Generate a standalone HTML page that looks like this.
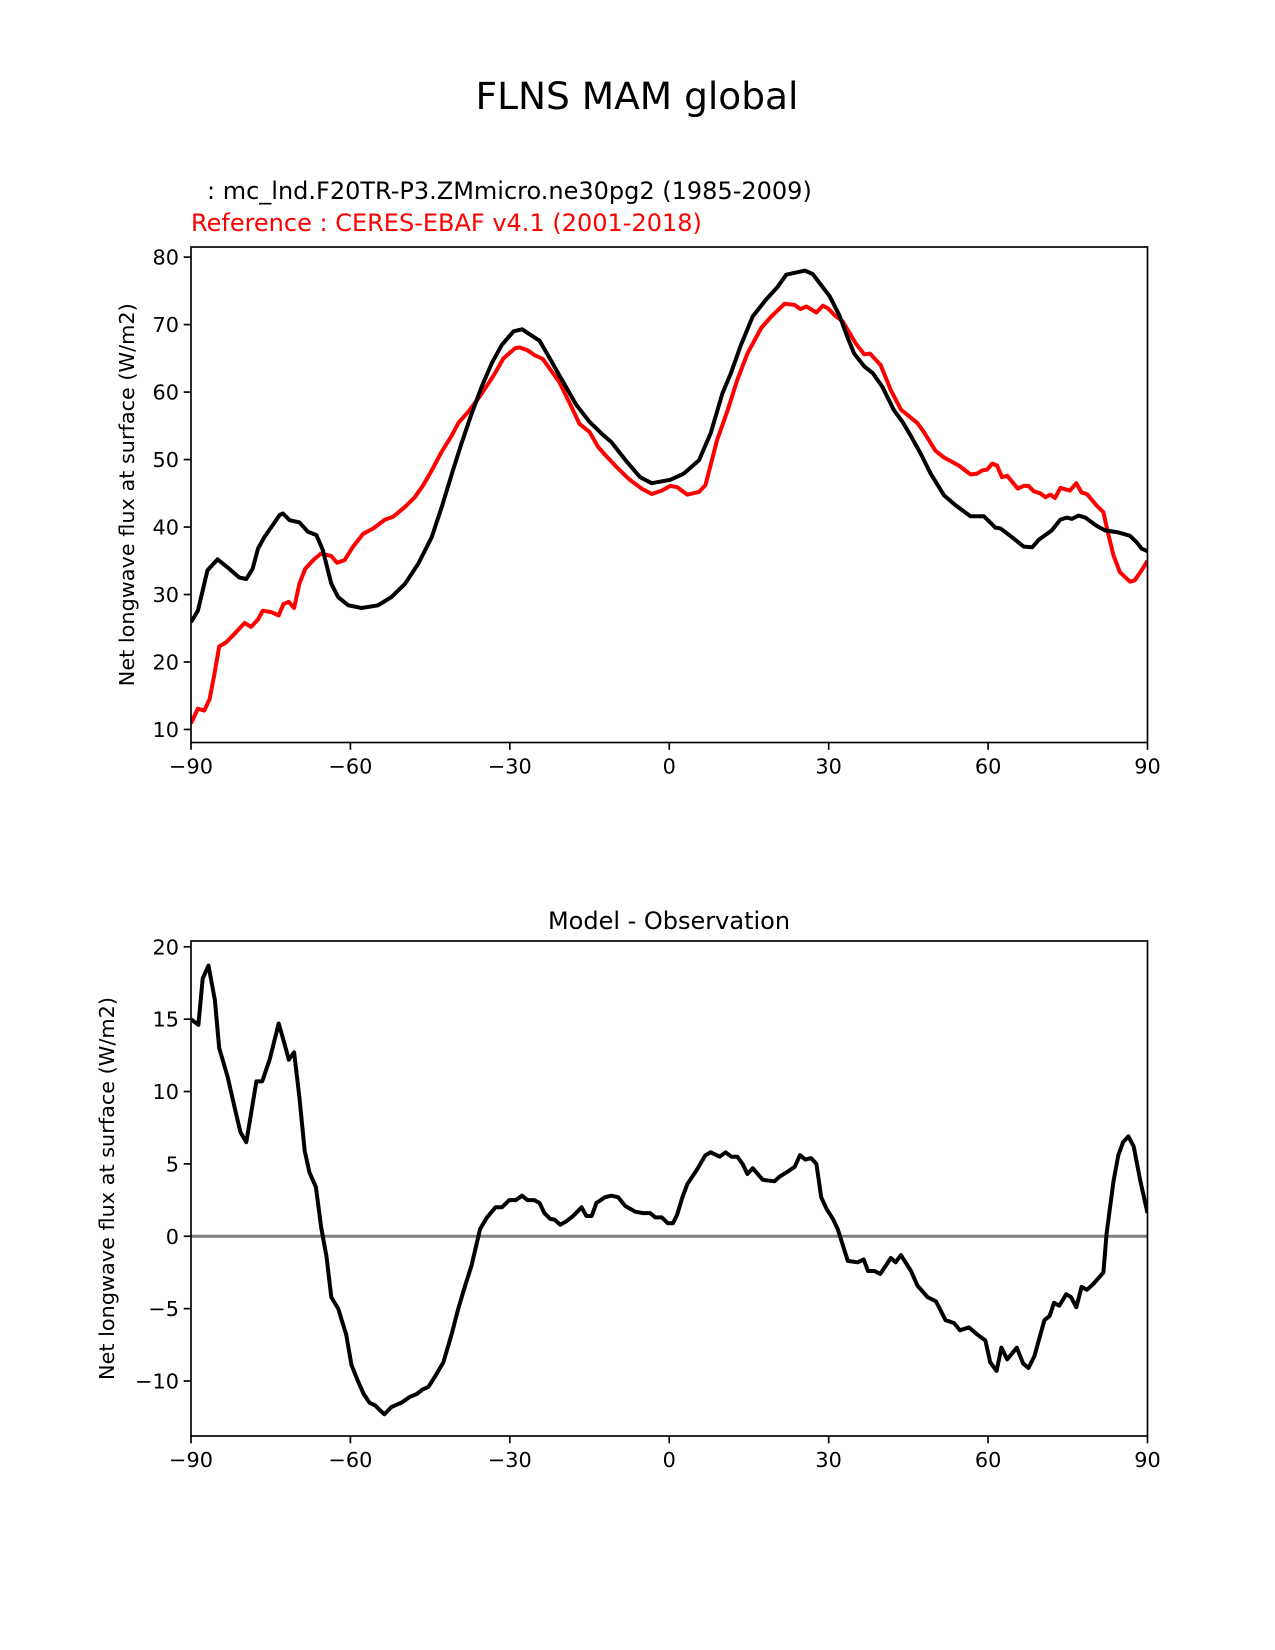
<!DOCTYPE html>
<html><head><meta charset="utf-8"><style>
html,body{margin:0;padding:0;background:#fff;}
svg{display:block;font-family:"DejaVu Sans","Liberation Sans",sans-serif;}
</style></head><body>
<svg id="fig" width="1275" height="1650" viewBox="0 0 1275 1650" xmlns="http://www.w3.org/2000/svg">
<rect width="1275" height="1650" fill="#fff"/>
<text x="637" y="109" font-size="37.5" text-anchor="middle">FLNS MAM global</text>
<text x="207" y="199" font-size="24">: mc_lnd.F20TR-P3.ZMmicro.ne30pg2 (1985-2009)</text>
<text x="191" y="231" font-size="24" fill="#ff0000">Reference : CERES-EBAF v4.1 (2001-2018)</text>
<text x="669" y="929" font-size="24" text-anchor="middle">Model - Observation</text>
<g id="top"></g>
<g id="bot"></g>
</svg>
<script>
const modelLat=[-90,-88.7,-86.9,-85.0,-83.1,-80.9,-79.6,-78.4,-77.4,-76.2,-74.6,-73.3,-72.7,-71.4,-69.6,-68.0,-66.4,-65.2,-63.6,-62.3,-60.4,-57.9,-54.8,-52.3,-49.7,-47.2,-44.7,-42.8,-40.9,-39.1,-37.2,-35.3,-33.4,-31.5,-29.3,-27.7,-24.4,-22.5,-20.7,-17.5,-15.0,-12.4,-10.9,-8.0,-5.5,-3.3,0.2,2.7,5.6,7.8,10.0,11.6,13.5,15.7,18.2,20.4,22.0,25.5,27.0,30.2,32.0,33.6,34.8,36.7,38.3,40.1,42.3,43.9,45.4,47.3,49.2,51.7,53.9,56.7,59.2,61.4,62.3,64.5,66.7,68.3,69.5,72.0,73.6,74.8,75.8,77.0,78.3,80.4,82.0,84.5,86.7,87.9,88.9,90];
const modelVal=[25.9,27.6,33.6,35.2,34.0,32.5,32.3,33.8,36.8,38.5,40.3,41.8,42.0,41.0,40.7,39.3,38.8,36.6,31.6,29.6,28.4,28.0,28.4,29.6,31.6,34.6,38.5,43.0,47.9,52.4,56.8,60.8,64.3,67.0,69.0,69.3,67.6,65.0,62.5,58.1,55.6,53.6,52.6,49.7,47.4,46.5,47.0,47.9,49.9,53.9,59.8,62.8,67.0,71.2,73.7,75.6,77.4,78.0,77.5,74.2,71.4,68.0,65.7,63.8,62.8,60.8,57.3,55.6,53.6,50.9,47.9,44.7,43.2,41.6,41.6,39.9,39.8,38.5,37.1,37.0,38.1,39.5,41.1,41.4,41.2,41.7,41.4,40.2,39.5,39.2,38.7,37.8,36.8,36.4];
const obsLat=[-90,-88.7,-87.5,-86.5,-85.6,-84.7,-83.4,-81.8,-79.9,-78.7,-77.4,-76.5,-74.9,-73.5,-72.6,-71.6,-70.6,-69.6,-68.5,-67.0,-65.5,-63.6,-62.5,-61.1,-59.5,-57.6,-55.7,-53.5,-52.0,-49.7,-47.9,-46.3,-44.7,-42.8,-40.9,-39.7,-37.8,-35.9,-34.0,-32.8,-31.2,-29.0,-28.2,-26.7,-25.4,-23.8,-20.7,-18.4,-16.9,-15.0,-13.4,-12.1,-9.9,-7.7,-5.2,-3.3,-1.4,0.2,1.5,3.4,5.6,6.8,9.0,10.9,12.8,14.7,17.3,19.2,21.7,23.6,24.7,25.8,27.7,28.9,29.9,31.1,32.6,33.6,35.1,36.7,37.8,38.6,39.8,41.7,43.6,46.7,47.9,50.1,51.7,54.5,56.7,57.9,58.9,59.8,60.8,61.7,62.6,63.6,65.6,66.7,67.6,68.6,69.8,70.8,71.7,72.6,73.6,75.4,76.6,77.6,78.6,80.4,81.7,82.6,83.6,84.8,86.7,87.6,88.9,90];
const obsVal=[10.9,13.1,12.8,14.5,18.2,22.3,22.9,24.2,25.8,25.2,26.3,27.6,27.4,26.9,28.6,28.9,28.0,31.6,33.8,35.1,36.1,35.7,34.7,35.1,37.1,39.0,39.8,41.1,41.5,43.0,44.4,46.2,48.4,51.2,53.6,55.4,57.1,59.1,61.3,62.8,65.0,66.5,66.6,66.2,65.5,64.9,61.5,57.8,55.3,54.1,51.9,50.7,48.9,47.2,45.7,44.9,45.4,46.1,45.9,44.8,45.2,46.2,52.9,57.1,61.8,65.7,69.5,71.2,73.1,72.9,72.3,72.7,71.8,72.8,72.4,71.4,70.5,69.2,67.2,65.6,65.7,65.0,64.0,60.3,57.4,55.4,54.1,51.3,50.3,49.1,47.8,47.9,48.4,48.5,49.4,49.1,47.4,47.6,45.7,46.1,46.1,45.3,45.0,44.4,44.8,44.3,45.8,45.4,46.5,45.1,44.9,43.2,42.2,39.0,35.8,33.3,31.9,32.1,33.6,35.0];
const diffLat=[-90,-88.6,-87.8,-86.7,-85.5,-84.7,-83.1,-81.8,-80.7,-79.6,-77.7,-76.6,-75.2,-73.5,-72.4,-71.6,-70.6,-69.6,-68.6,-67.7,-66.5,-65.5,-64.5,-63.6,-62.3,-60.8,-59.8,-58.6,-57.5,-56.4,-55.3,-54.5,-53.6,-52.3,-50.4,-48.8,-47.5,-46.5,-45.3,-44.1,-42.5,-40.9,-39.7,-38.4,-37.2,-35.6,-34.3,-32.7,-31.5,-30.1,-28.9,-27.7,-26.7,-25.4,-24.4,-23.5,-22.4,-21.6,-20.5,-19.5,-18.1,-16.5,-15.6,-14.6,-13.7,-12.1,-10.9,-9.6,-8.3,-6.4,-4.9,-3.6,-2.6,-1.4,-0.3,0.7,1.5,2.4,3.4,5.2,6.8,7.8,9.5,10.6,11.7,12.8,13.8,14.7,15.7,17.6,19.8,20.7,22.0,23.6,24.6,25.6,26.7,27.7,28.6,29.6,30.8,31.7,33.6,35.5,36.6,37.4,38.6,39.7,40.8,41.7,42.6,43.6,45.5,46.7,48.6,50.2,52.0,53.6,54.7,56.4,58.0,59.5,60.4,61.6,62.5,63.6,65.4,66.6,67.6,68.7,70.6,71.6,72.4,73.4,74.7,75.6,76.6,77.6,78.6,79.8,81.7,82.3,83.6,84.5,85.4,86.4,87.4,88.6,90];
const diffVal=[15.0,14.6,17.8,18.7,16.3,13.0,11.0,8.9,7.2,6.5,10.7,10.7,12.2,14.7,13.3,12.2,12.7,9.6,5.9,4.4,3.4,0.6,-1.4,-4.2,-5.0,-6.8,-8.9,-10.0,-10.9,-11.5,-11.7,-12.0,-12.3,-11.8,-11.5,-11.1,-10.9,-10.6,-10.4,-9.7,-8.7,-6.7,-5.0,-3.4,-2.0,0.5,1.3,2.0,2.0,2.5,2.5,2.8,2.5,2.5,2.3,1.6,1.2,1.15,0.8,1.0,1.4,2.0,1.4,1.4,2.3,2.7,2.8,2.7,2.1,1.7,1.6,1.6,1.3,1.3,0.9,0.9,1.5,2.6,3.6,4.6,5.6,5.8,5.5,5.8,5.5,5.5,5.0,4.3,4.7,3.9,3.8,4.1,4.4,4.8,5.6,5.3,5.4,5.0,2.7,1.9,1.2,0.5,-1.7,-1.8,-1.6,-2.4,-2.4,-2.6,-2.0,-1.5,-1.8,-1.3,-2.4,-3.4,-4.2,-4.5,-5.8,-6.0,-6.5,-6.3,-6.8,-7.2,-8.7,-9.3,-7.7,-8.5,-7.7,-8.8,-9.1,-8.3,-5.8,-5.5,-4.6,-4.8,-4.0,-4.2,-4.9,-3.5,-3.7,-3.3,-2.5,0.2,3.8,5.6,6.5,6.9,6.2,3.9,1.6];
const xTicks=[-90,-60,-30,0,30,60,90];
const xTickLabels=["\u221290","\u221260","\u221230","0","30","60","90"];
const topYTicks=[10,20,30,40,50,60,70,80];
const botYTicks=[-10,-5,0,5,10,15,20];
const botYTickLabels=["\u221210","\u22125","0","5","10","15","20"];

const NS="http://www.w3.org/2000/svg";
const L=191,R=1147.5;
function el(tag,attrs,parent){const e=document.createElementNS(NS,tag);for(const k in attrs)e.setAttribute(k,attrs[k]);parent.appendChild(e);return e;}
function xs(v){return L+(v+90)/180*(R-L);}

function panel(g,top,bot,ymin,ymax,yt,ytl,ylabel,ylx,prefix){
  const ys=v=>bot-(v-ymin)/(ymax-ymin)*(bot-top);
  return {ys,draw(){
    const fr=el('rect',{x:L,y:top,width:R-L,height:bot-top,fill:'none',stroke:'#000','stroke-width':1.67},g);
    
    
    xTicks.forEach((t,i)=>{
      const tk=el('line',{x1:xs(t),x2:xs(t),y1:bot,y2:bot+7.3,stroke:'#000','stroke-width':1.67},g);
      
      
      const tx=el('text',{x:xs(t),y:bot+31,'font-size':20.8,'text-anchor':'middle'},g);
      tx.textContent=xTickLabels[i];
      
      
    });
    yt.forEach((t,i)=>{
      const y=ys(t);
      const tk=el('line',{x1:L-7.3,x2:L,y1:y,y2:y,stroke:'#000','stroke-width':1.67},g);
      
      
      const tx=el('text',{x:L-12,y:y+7.5,'font-size':20.8,'text-anchor':'end'},g);
      tx.textContent=ytl[i];
      
      
    });
    const yl=el('text',{x:ylx,y:(top+bot)/2,'font-size':20.8,'text-anchor':'middle',transform:`rotate(-90 ${ylx} ${(top+bot)/2})`},g);
    yl.textContent=ylabel;
    
    
  }};
}
function line(g,lats,vals,ys,color,w,name){
  const d=lats.map((a,i)=>(i?'L':'M')+xs(a).toFixed(1)+' '+ys(vals[i]).toFixed(1)).join(' ');
  const p=el('path',{d,fill:'none',stroke:color,'stroke-width':w,'stroke-linejoin':'round'},g);
  
  
}
const gt=document.getElementById('top');
const pt=panel(gt,247,742.5,8.07,81.5,topYTicks,topYTicks.map(String),'Net longwave flux at surface (W/m2)',134,'top');
const cp=el('clipPath',{id:'ct'},gt);el('rect',{x:L,y:247,width:R-L,height:495.5},cp);
const gtl=el('g',{'clip-path':'url(#ct)'},gt);
line(gtl,obsLat,obsVal,pt.ys,'#ff0000',4,'observation-line');
line(gtl,modelLat,modelVal,pt.ys,'#000000',4,'model-line');
pt.draw();

const gb=document.getElementById('bot');
const pb=panel(gb,941,1436,-13.8,20.4,botYTicks,botYTickLabels,'Net longwave flux at surface (W/m2)',114,'bottom');
const cb=el('clipPath',{id:'cb'},gb);el('rect',{x:L,y:941,width:R-L,height:495},cb);
const gbl=el('g',{'clip-path':'url(#cb)'},gb);
const z=el('line',{x1:L,x2:R,y1:pb.ys(0),y2:pb.ys(0),stroke:'#808080','stroke-width':3},gbl);


line(gbl,diffLat,diffVal,pb.ys,'#000000',4,'difference-line');
pb.draw();
</script>
</body></html>
